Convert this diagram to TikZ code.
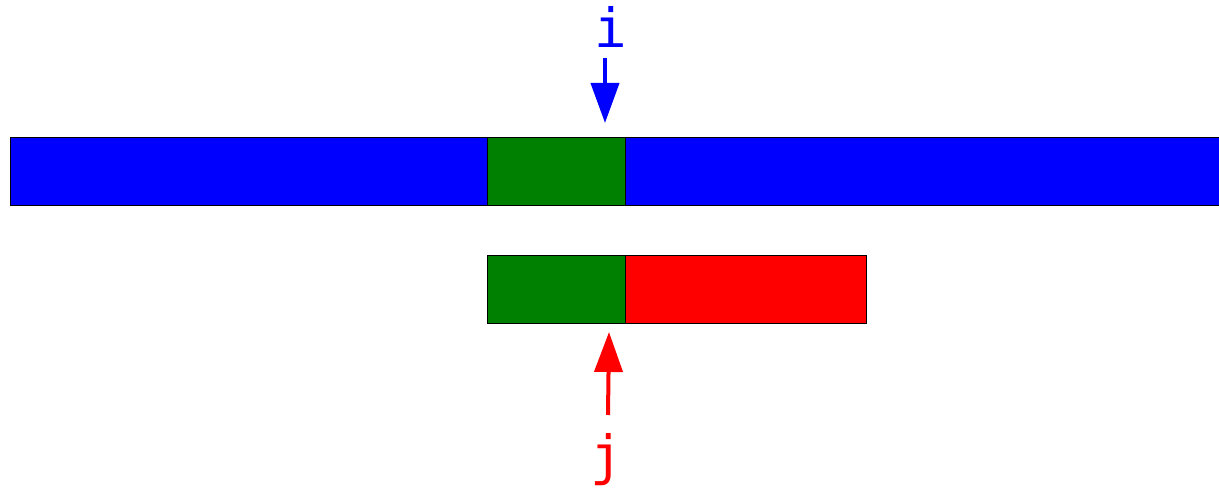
\documentclass[tikz,border=0pt]{standalone}
\usepackage{fontspec}
\setmonofont{DejaVu Sans Mono}
\usetikzlibrary{arrows.meta}

\begin{document}
\begin{tikzpicture}[
    x=0.5pt, y=-0.5pt,
    cell/.style={
        draw=black, line width=0.5pt, inner sep=0pt, minimum height=34pt
    },
    idx/.style={font=\ttfamily\fontsize{27}{32}\selectfont, inner sep=0pt, anchor=base},
    ptr/.style={line width=2pt, -{Triangle[width=14pt, length=20pt]}}
]

% ============================
% COLOR DEFINITIONS
% ============================
\definecolor{colText}{HTML}{0000FF}     % blue
\definecolor{colPattern}{HTML}{FF0000}  % red
\definecolor{colMatch}{HTML}{008000}    % green

\useasboundingbox (0,0) rectangle (1219,490);

% ============================
% TEXT ROW (top)
% ============================
\node[cell, fill=colText, minimum width=606pt, anchor=north west] (text) at (10,137) {};
\node[cell, fill=colMatch, minimum width=69pt, anchor=north west] (textmatch) at (487,137) {};

% ============================
% PATTERN ROW (bottom)
% ============================
\node[cell, fill=colMatch, minimum width=69pt, anchor=north west] (patmatch) at (487,255) {};
\node[cell, fill=colPattern, minimum width=120.5pt, anchor=north west] (patrest) at (625,255) {};

% ============================
% POINTERS
% ============================
\node[idx, text=colText] (i) at (611,48) {i};
\coordinate (itop) at (605,58);
\coordinate (itip) at (605,123);
\draw[ptr, colText] (itop) -- (itip);

\node[idx, text=colPattern] (j) at (607,475) {j};
\coordinate (jbot) at (608,415);
\coordinate (jtip) at (609,332);
\draw[ptr, colPattern] (jbot) -- (jtip);

\end{tikzpicture}
\end{document}
